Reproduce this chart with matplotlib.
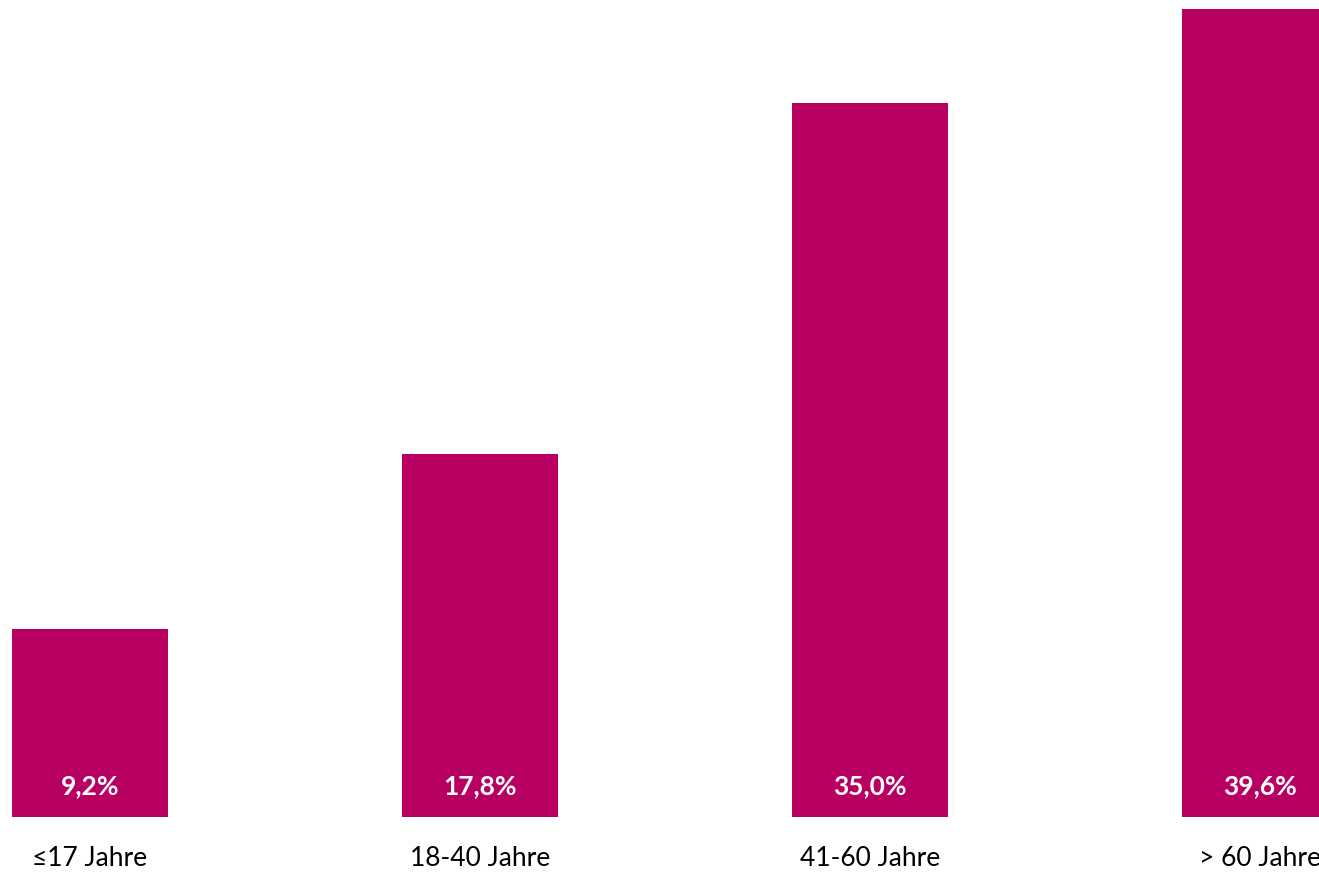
import matplotlib.pyplot as plt

# Altersverteilung
categories = ['≤17 Jahre', '18-40 Jahre', '41-60 Jahre', '> 60 Jahre']
shares = [9.2, 17.8, 35.0, 39.6]
labels = ['9,2%', '17,8%', '35,0%', '39,6%']

bar_color = '#B80062'
fonts = ['Lato', 'DejaVu Sans']

fig = plt.figure(figsize=(13.19, 8.75), dpi=100)
# axes fills the figure width; bottom edge sits above the category labels
ax = fig.add_axes([0, 58 / 875, 1, 817 / 875])

x = range(len(categories))
ax.bar(x, shares, width=0.4, color=bar_color)

ax.set_xlim(-90 / 390, 1229 / 390)
ax.set_ylim(0, 817 / 20.4)

for xi, lab in zip(x, labels):
    ax.annotate(lab, xy=(xi, 0), xytext=(0, 22.3), textcoords='offset points',
                ha='center', va='center', color='white', fontsize=19,
                fontweight='bold', family=fonts)

ax.set_xticks(list(x))
ax.set_xticklabels(categories, fontsize=19, family=fonts, color='black')
ax.tick_params(axis='x', length=0, pad=21)
ax.set_yticks([])
for s in ax.spines.values():
    s.set_visible(False)

fig.savefig('out.png', dpi=100)
